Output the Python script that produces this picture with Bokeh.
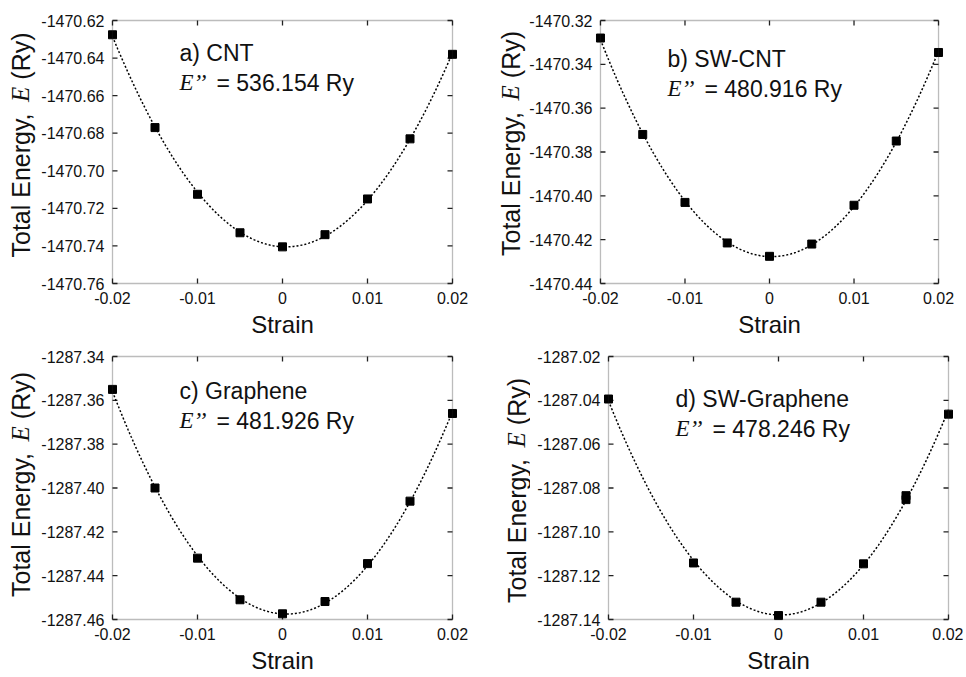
import numpy as np
from bokeh.plotting import figure
from bokeh.layouts import column, row
from bokeh.models import (FixedTicker, PrintfTickFormatter, Label, Range1d,
                          ColumnDataSource, BoxAnnotation)
from bokeh.embed import file_html
from bokeh.resources import INLINE

# ---------------- data ----------------
x_ticks = [-0.02, -0.01, 0, 0.01, 0.02]
x_tick_labels = ["-0.02", "-0.01", "0", "0.01", "0.02"]

strain_a = [-0.02, -0.015, -0.01, -0.005, 0.0, 0.005, 0.01, 0.015, 0.02]
energy_a = [-1470.6276, -1470.677, -1470.7125, -1470.733, -1470.7405,
            -1470.734, -1470.715, -1470.683, -1470.638]
yticks_a = [-1470.76, -1470.74, -1470.72, -1470.70, -1470.68, -1470.66, -1470.64, -1470.62]

strain_b = [-0.02, -0.015, -0.01, -0.005, 0.0, 0.005, 0.01, 0.015, 0.02]
energy_b = [-1470.328, -1470.372, -1470.403, -1470.4215, -1470.4276,
            -1470.422, -1470.4043, -1470.375, -1470.3346]
yticks_b = [-1470.44, -1470.42, -1470.40, -1470.38, -1470.36, -1470.34, -1470.32]

strain_c = [-0.02, -0.015, -0.01, -0.005, 0.0, 0.005, 0.01, 0.015, 0.02]
energy_c = [-1287.355, -1287.400, -1287.432, -1287.451, -1287.4574,
            -1287.4518, -1287.4345, -1287.406, -1287.366]
yticks_c = [-1287.46, -1287.44, -1287.42, -1287.40, -1287.38, -1287.36, -1287.34]

strain_d = [-0.02, -0.01, -0.005, 0.0, 0.005, 0.01, 0.015, 0.015, 0.02]
energy_d = [-1287.0394, -1287.1142, -1287.1321, -1287.1382, -1287.1321,
            -1287.1146, -1287.0835, -1287.0853, -1287.0463]
yticks_d = [-1287.14, -1287.12, -1287.10, -1287.08, -1287.06, -1287.04, -1287.02]

titles = ["a) CNT", "b) SW-CNT", "c) Graphene", "d) SW-Graphene"]
second_derivs = ["= 536.154 Ry", "= 480.916 Ry", "= 481.926 Ry", "= 478.246 Ry"]

SANS = "Liberation Sans"
SERIF = "Liberation Serif"
INK = "#111111"
FRAME = "#222222"

BOX_W, BOX_H, PAD = 340, 263, 4
FRAME_W, FRAME_H = BOX_W + 2 * PAD + 2, BOX_H + 2 * PAD


def ylabel_fig(width, mb_top, mb_bottom, cx, y0):
    """Narrow figure holding the rotated y axis title (with italic serif E).
    Its frame is row-aligned with the panel frames; y is in pixels from frame bottom."""
    f = figure(width=width, height=mb_top + FRAME_H + mb_bottom,
               x_range=Range1d(0, width), y_range=Range1d(0, FRAME_H),
               x_axis_type=None, y_axis_type=None,
               output_backend="svg", toolbar_location=None,
               min_border_left=0, min_border_right=0,
               min_border_top=mb_top, min_border_bottom=mb_bottom,
               outline_line_color=None, background_fill_color="white",
               border_fill_color="white")
    parts = [("Total Energy,", SANS, "normal", 0),
             ("E", SERIF, "italic", 155.6),
             ("(Ry)", SANS, "normal", 177.8)]
    for txt, fnt, sty, off in parts:
        f.add_layout(Label(x=cx, y=y0, y_offset=off, text=txt, text_font=fnt,
                           text_font_style=sty, text_font_size="25px",
                           text_color=INK, angle=np.pi / 2, text_align="left",
                           text_baseline="middle"))
    return f


def make_panel(strain, energy, yticks, title, eval_text,
               mb_left, mb_right, mb_top, mb_bottom, title_dy):
    y_lo, y_hi = min(yticks), max(yticks)
    pad_x = 0.04 * (PAD + 1) / BOX_W
    pad_y = (y_hi - y_lo) * PAD / BOX_H
    p = figure(width=mb_left + FRAME_W + mb_right, height=mb_top + FRAME_H + mb_bottom,
               x_range=Range1d(-0.02 - pad_x, 0.02 + pad_x),
               y_range=Range1d(y_lo - pad_y, y_hi + pad_y),
               output_backend="svg", toolbar_location=None,
               min_border_left=mb_left, min_border_right=mb_right,
               min_border_top=mb_top, min_border_bottom=mb_bottom,
               background_fill_color="white", border_fill_color="white",
               outline_line_color=None)
    p.grid.visible = False

    xa = p.xaxis[0]
    xa.ticker = FixedTicker(ticks=x_ticks)
    xa.major_label_overrides = dict(zip(x_ticks, x_tick_labels))
    ya = p.yaxis[0]
    ya.ticker = FixedTicker(ticks=yticks)
    ya.formatter = PrintfTickFormatter(format="%.2f")
    for ax in (xa, ya):
        ax.axis_line_color = None
        ax.major_tick_in = 0
        ax.major_tick_out = 0
        ax.major_tick_line_color = None
        ax.minor_tick_line_color = None
        ax.major_label_text_font = SANS
        ax.major_label_text_font_size = "16px"
        ax.major_label_text_color = INK
    xa.major_label_standoff = 4
    ya.major_label_standoff = 3
    xa.axis_label = "Strain"
    xa.axis_label_text_font = SANS
    xa.axis_label_text_font_size = "24px"
    xa.axis_label_text_font_style = "normal"
    xa.axis_label_text_color = INK
    xa.axis_label_standoff = 4

    # frame box at the data limits
    p.add_layout(BoxAnnotation(left=-0.02, right=0.02, bottom=y_lo, top=y_hi,
                               fill_alpha=0, line_color=FRAME, line_width=1.3))
    # inward ticks on all four sides
    tick_kw = dict(length=5, length_units="screen", line_color=FRAME, line_width=1.3)
    p.ray(x=x_ticks, y=[y_lo] * len(x_ticks), angle=np.pi / 2, **tick_kw)
    p.ray(x=x_ticks, y=[y_hi] * len(x_ticks), angle=-np.pi / 2, **tick_kw)
    p.ray(x=[-0.02] * len(yticks), y=yticks, angle=0, **tick_kw)
    p.ray(x=[0.02] * len(yticks), y=yticks, angle=np.pi, **tick_kw)

    # quadratic fit of the data points (dotted)
    coef = np.polyfit(strain, energy, 2)
    xs = np.linspace(-0.02, 0.02, 200)
    p.line(xs, np.polyval(coef, xs), line_color="black", line_width=1.5,
           line_dash="2 2")
    src = ColumnDataSource(dict(x=strain, y=energy))
    p.scatter("x", "y", source=src, marker="square", size=8,
              fill_color="black", line_color="black")

    # in-plot annotations
    p.add_layout(Label(x=-0.02, y=y_hi, x_offset=67, y_offset=-(33 + title_dy),
                       text=title, text_font=SANS, text_font_size="23px",
                       text_color=INK, text_baseline="alphabetic"))
    p.add_layout(Label(x=-0.02, y=y_hi, x_offset=67, y_offset=-(63 + title_dy),
                       text="E\u2019\u2019", text_font=SERIF, text_font_style="italic",
                       text_font_size="23px", text_color=INK,
                       text_baseline="alphabetic"))
    p.add_layout(Label(x=-0.02, y=y_hi, x_offset=67 + 37, y_offset=-(63 + title_dy),
                       text=eval_text, text_font=SANS, text_font_size="23px",
                       text_color=INK, text_baseline="alphabetic"))
    return p


# row 1: frames at page y 16..287 ; row 2: frames at 352..623
T1, T2, B = 16, 7, 58
la = ylabel_fig(36, T1, B, 20, 30)
pa = make_panel(strain_a, energy_a, yticks_a, titles[0], second_derivs[0],
                71, 25, T1, B, -1)
lb = ylabel_fig(44, T1, B, 28, 31.5)
pb = make_panel(strain_b, energy_b, yticks_b, titles[1], second_derivs[1],
                67, 20, T1, B, 5)
lc = ylabel_fig(36, T2, B, 20, 26.5)
pc = make_panel(strain_c, energy_c, yticks_c, titles[2], second_derivs[2],
                71, 25, T2, B, 1)
ld = ylabel_fig(48, T2, B, 34, 20.5)
pd = make_panel(strain_d, energy_d, yticks_d, titles[3], second_derivs[3],
                73, 10, T2, B, 9)

layout = column(row(la, pa, lb, pb), row(lc, pc, ld, pd))
open("out.html", "w").write(file_html(layout, INLINE))
